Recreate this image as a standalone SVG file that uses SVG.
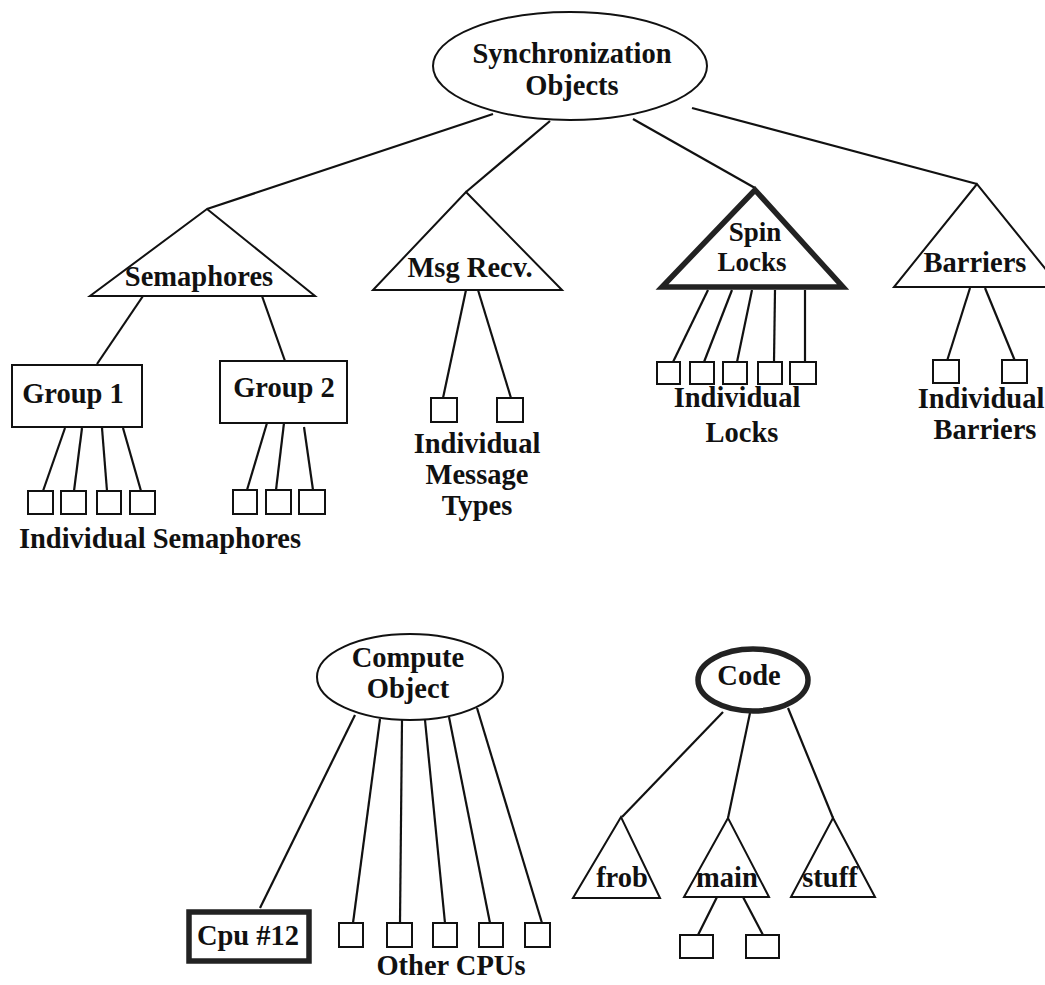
<svg xmlns="http://www.w3.org/2000/svg" width="1045" height="985" viewBox="0 0 1045 985">
<style>
.s{fill:#fff;stroke:#111;stroke-width:2}
.k{fill:#fff;stroke:#222;stroke-width:5.5}
.t{font-family:"Liberation Serif","Times New Roman",serif;font-weight:bold;font-size:28.5px;fill:#111;text-anchor:middle}
#connectors line{stroke:#111;stroke-width:2.2}
</style>
<rect width="1045" height="985" fill="#fff"/>
<g id="connectors">
<line x1="493" y1="114" x2="207" y2="209"/>
<line x1="550" y1="121" x2="466" y2="192"/>
<line x1="633" y1="119" x2="755" y2="188"/>
<line x1="692" y1="108" x2="977" y2="184"/>
<line x1="143" y1="296" x2="97" y2="364"/>
<line x1="262" y1="296" x2="285" y2="361"/>
<line x1="65" y1="428" x2="43" y2="491"/>
<line x1="82" y1="428" x2="74" y2="491"/>
<line x1="102" y1="428" x2="107" y2="491"/>
<line x1="123" y1="428" x2="141" y2="491"/>
<line x1="267" y1="423" x2="247" y2="490"/>
<line x1="284" y1="423" x2="276" y2="490"/>
<line x1="304" y1="427" x2="313" y2="490"/>
<line x1="466" y1="290" x2="443" y2="398"/>
<line x1="478" y1="290" x2="511" y2="398"/>
<line x1="708" y1="290" x2="673" y2="362"/>
<line x1="732" y1="290" x2="704" y2="362"/>
<line x1="752" y1="290" x2="737" y2="362"/>
<line x1="775" y1="290" x2="774" y2="362"/>
<line x1="805" y1="290" x2="805" y2="362"/>
<line x1="970" y1="288" x2="947" y2="361"/>
<line x1="985" y1="288" x2="1015" y2="361"/>
<line x1="355" y1="715" x2="260" y2="908"/>
<line x1="380" y1="719" x2="353" y2="923"/>
<line x1="402" y1="720" x2="400" y2="923"/>
<line x1="425" y1="720" x2="445" y2="923"/>
<line x1="449" y1="717" x2="490" y2="923"/>
<line x1="477" y1="708" x2="542" y2="923"/>
<line x1="723" y1="712" x2="622" y2="817"/>
<line x1="750" y1="713" x2="728" y2="818"/>
<line x1="788" y1="708" x2="833" y2="818"/>
<line x1="717" y1="897" x2="698" y2="935"/>
<line x1="743" y1="897" x2="763" y2="935"/>
</g>
<g id="sync">
<ellipse class="s" cx="570" cy="66" rx="137" ry="54"/>
<text class="t" x="572" y="63">Synchronization</text>
<text class="t" x="572" y="95">Objects</text>
</g>
<g id="semaphores">
<polygon class="s" points="207,209 90,296 315,296"/>
<text class="t" x="199" y="286">Semaphores</text>
</g>
<g id="group1">
<rect class="s" x="12" y="365" width="130" height="62"/>
<text class="t" x="73" y="403">Group 1</text>
</g>
<g id="group2">
<rect class="s" x="220" y="361" width="127" height="62"/>
<text class="t" x="284" y="397">Group 2</text>
</g>
<g id="sem-items">
<rect class="s" x="28" y="491" width="25" height="23"/>
<rect class="s" x="61" y="491" width="25" height="23"/>
<rect class="s" x="97" y="491" width="24" height="23"/>
<rect class="s" x="130" y="491" width="25" height="23"/>
<rect class="s" x="233" y="490" width="24" height="24"/>
<rect class="s" x="266" y="490" width="25" height="24"/>
<rect class="s" x="299" y="490" width="26" height="24"/>
<text class="t" x="160" y="548">Individual Semaphores</text>
</g>
<g id="msgrecv">
<polygon class="s" points="466,192 373,290 562,290"/>
<text class="t" x="470" y="277">Msg Recv.</text>
</g>
<g id="msg-items">
<rect class="s" x="431" y="398" width="26" height="24"/>
<rect class="s" x="497" y="398" width="26" height="24"/>
<text class="t" x="477" y="453">Individual</text>
<text class="t" x="477" y="484">Message</text>
<text class="t" x="477" y="515">Types</text>
</g>
<g id="spinlocks">
<polygon class="k" points="755,190 662,287 843,287"/>
<text class="t" x="755" y="241" style="font-size:27px">Spin</text>
<text class="t" x="752" y="271" style="font-size:27px">Locks</text>
</g>
<g id="lock-items">
<rect class="s" x="657" y="362" width="23" height="22"/>
<rect class="s" x="690" y="362" width="24" height="22"/>
<rect class="s" x="723" y="362" width="24" height="22"/>
<rect class="s" x="758" y="362" width="24" height="22"/>
<rect class="s" x="790" y="362" width="26" height="22"/>
<text class="t" x="737" y="407">Individual</text>
<text class="t" x="742" y="442">Locks</text>
</g>
<g id="barriers">
<polygon class="s" points="977,184 894,287 1060,287"/>
<text class="t" x="975" y="272">Barriers</text>
</g>
<g id="barrier-items">
<rect class="s" x="933" y="360" width="26" height="23"/>
<rect class="s" x="1002" y="360" width="25" height="23"/>
<text class="t" x="981" y="408">Individual</text>
<text class="t" x="985" y="439">Barriers</text>
</g>
<g id="compute">
<ellipse class="s" cx="410" cy="677" rx="93" ry="43"/>
<text class="t" x="408" y="667">Compute</text>
<text class="t" x="408" y="698">Object</text>
</g>
<g id="cpu12">
<rect class="k" x="189" y="912" width="120" height="49"/>
<text class="t" x="248" y="945">Cpu #12</text>
</g>
<g id="cpu-items">
<rect class="s" x="339" y="923" width="24" height="24"/>
<rect class="s" x="387" y="923" width="25" height="24"/>
<rect class="s" x="433" y="923" width="24" height="24"/>
<rect class="s" x="479" y="923" width="24" height="24"/>
<rect class="s" x="525" y="923" width="25" height="24"/>
<text class="t" x="451" y="975">Other CPUs</text>
</g>
<g id="code">
<ellipse class="k" cx="753" cy="680" rx="55" ry="31"/>
<text class="t" x="749" y="685">Code</text>
</g>
<g id="frob">
<polygon class="s" points="621,817 573,898 660,898"/>
<text class="t" x="622" y="887">frob</text>
</g>
<g id="main">
<polygon class="s" points="728,818 684,897 769,897"/>
<text class="t" x="727" y="887">main</text>
</g>
<g id="stuff">
<polygon class="s" points="833,818 791,897 875,897"/>
<text class="t" x="830" y="887">stuff</text>
</g>
<g id="main-items">
<rect class="s" x="680" y="935" width="33" height="23"/>
<rect class="s" x="746" y="935" width="33" height="23"/>
</g>
</svg>
